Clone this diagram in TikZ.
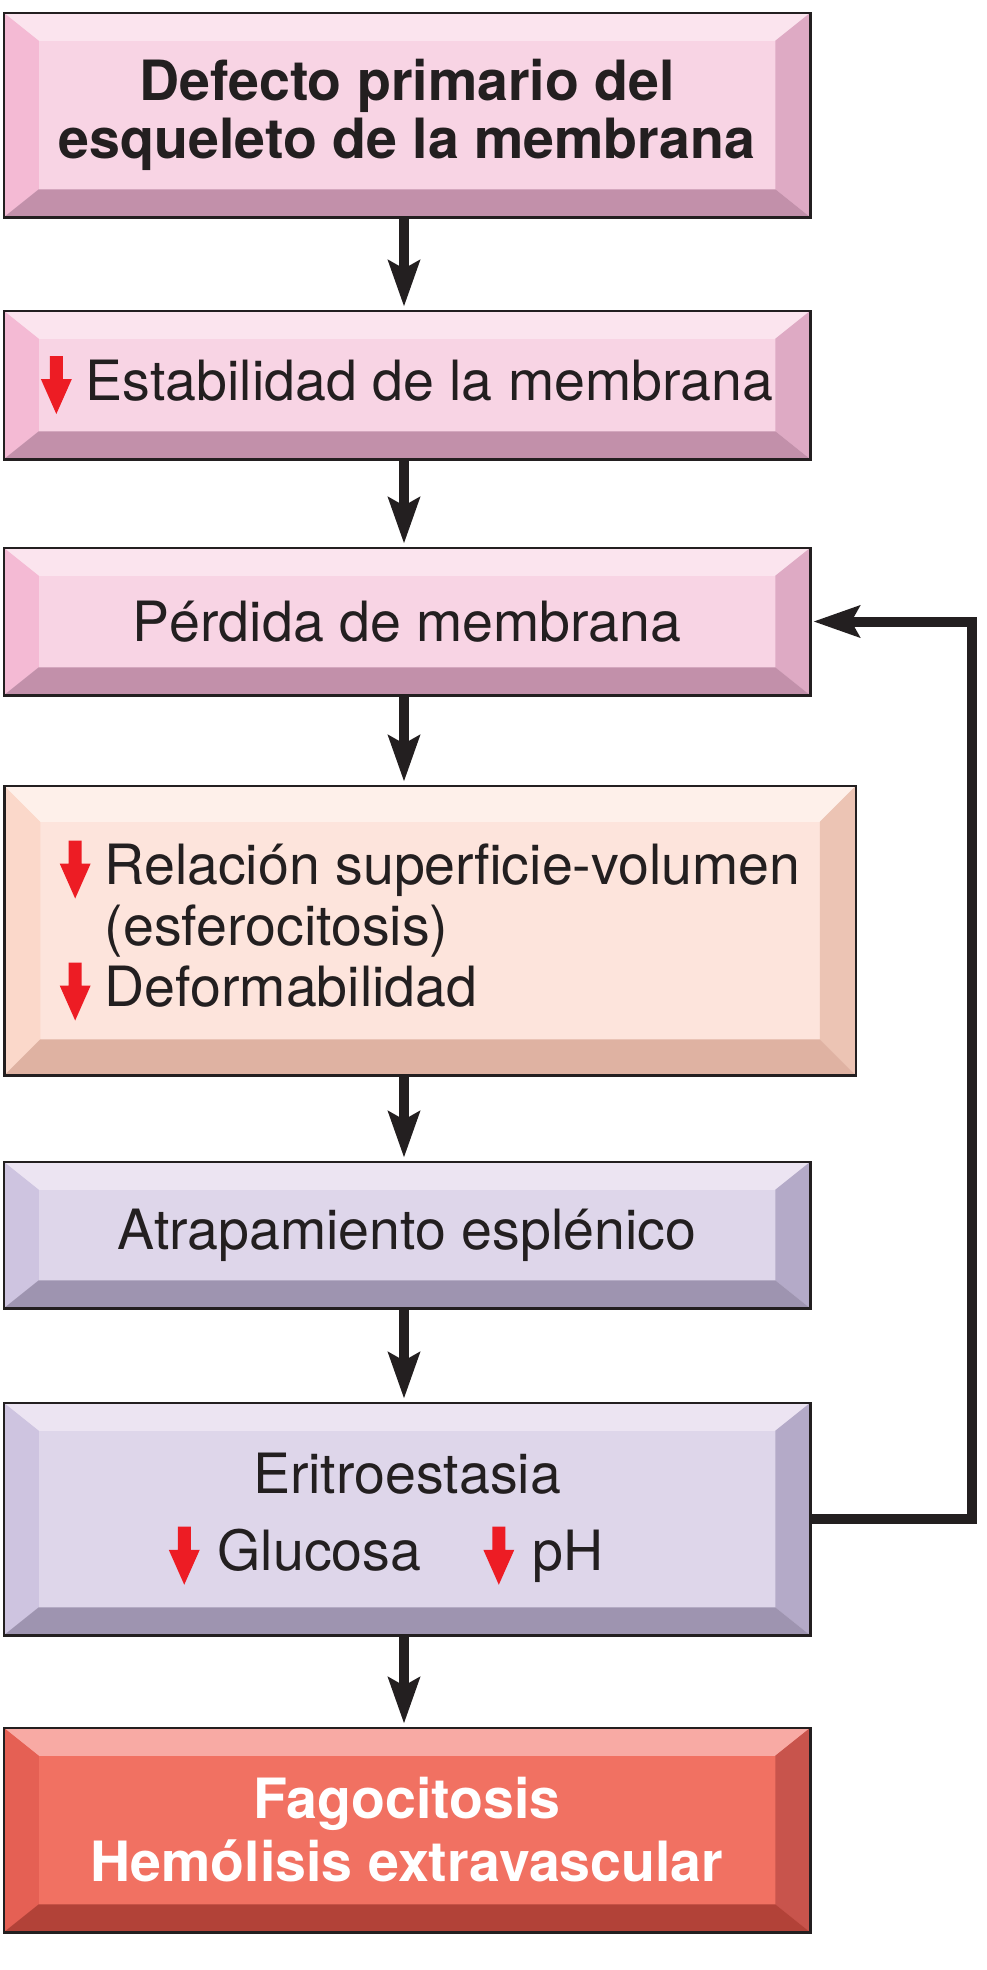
\documentclass[tikz,border=0pt]{standalone}
\usepackage{fontspec}
\setmainfont{TeX Gyre Heros}
\usepackage{xcolor}
\usetikzlibrary{positioning,calc,arrows.meta}

% Colores de las cajas
\definecolor{texto}{HTML}{231F20}
\definecolor{rojo}{HTML}{ED1C24}
\definecolor{rosaCara}{HTML}{F8D4E4}
\definecolor{rosaArr}{HTML}{FBE4EE}
\definecolor{rosaIzq}{HTML}{F4BAD4}
\definecolor{rosaDer}{HTML}{DEAAC4}
\definecolor{rosaAba}{HTML}{C290AA}
\definecolor{melonCara}{HTML}{FDE4DC}
\definecolor{melonArr}{HTML}{FEF0EA}
\definecolor{melonIzq}{HTML}{FBD8CA}
\definecolor{melonDer}{HTML}{ECC4B4}
\definecolor{melonAba}{HTML}{DFB2A2}
\definecolor{lilaCara}{HTML}{DED6EA}
\definecolor{lilaArr}{HTML}{ECE4F2}
\definecolor{lilaIzq}{HTML}{CEC4E0}
\definecolor{lilaDer}{HTML}{B4AAC8}
\definecolor{lilaAba}{HTML}{9E94B0}
\definecolor{rojoCara}{HTML}{F17162}
\definecolor{rojoArr}{HTML}{F8AAA4}
\definecolor{rojoIzq}{HTML}{E56054}
\definecolor{rojoDer}{HTML}{C8544C}
\definecolor{rojoAba}{HTML}{B24238}

% flecha roja de descenso
\newcommand{\baja}{\tikz[x=1pt,y=1pt,baseline=0pt]\fill[rojo] (-6.5,44) -- (6.5,44) -- (6.5,21) -- (15.5,21) -- (0,-14) -- (-15.5,21) -- (-6.5,21) -- cycle;}

% biseles: nodo, familia, ancho, alto
\newcommand{\bisel}[4]{%
  \fill[#2Arr] (#1.north west) -- (#1.north east) -- ($(#1.north east)+(-#3,#4)$) -- ($(#1.north west)+(#3,#4)$) -- cycle;
  \fill[#2Izq] (#1.north west) -- ($(#1.north west)+(#3,#4)$) -- ($(#1.south west)+(#3,-#4)$) -- (#1.south west) -- cycle;
  \fill[#2Der] (#1.north east) -- (#1.south east) -- ($(#1.south east)+(-#3,-#4)$) -- ($(#1.north east)+(-#3,#4)$) -- cycle;
  \fill[#2Aba] (#1.south west) -- (#1.south east) -- ($(#1.south east)+(-#3,-#4)$) -- ($(#1.south west)+(#3,-#4)$) -- cycle;
  \draw[line width=2.5pt, texto] (#1.north west) rectangle (#1.south east);
}

\begin{document}
\begin{tikzpicture}[x=1pt, y=-1pt,
  caja/.style={rectangle, inner sep=0pt, align=center, text=texto,
    font=\fontsize{55.5}{58}\selectfont, line width=2.5pt},
  flecha/.style={line width=10pt, texto, -{Stealth[length=46pt, width=31pt, inset=8pt]}}]
  \useasboundingbox (0,0) rectangle (987,1970);

  % Cajas
  \node[caja, fill=rosaCara, minimum width=804pt, minimum height=202pt, font=\fontsize{55.5}{58}\selectfont\bfseries] (defecto) at (407,115) {Defecto primario del\\esqueleto de la membrana};
  \bisel{defecto}{rosa}{35}{28}
  \node[caja, fill=rosaCara, minimum width=804pt, minimum height=146pt] (estab) at (407,385) {\baja\hspace{14pt}Estabilidad de la membrana};
  \bisel{estab}{rosa}{35}{28}
  \node[caja, fill=rosaCara, minimum width=804pt, minimum height=145pt] (perdida) at (407,621.5) {Pérdida de membrana};
  \bisel{perdida}{rosa}{35}{28}
  \node[caja, fill=melonCara, minimum width=849pt, minimum height=287pt, align=left, font=\fontsize{55.5}{61}\selectfont] (relacion) at (430,930.5) {\baja\hspace{14pt}Relación superficie-volumen\\\phantom{\baja}\hspace{14pt}(esferocitosis)\\\baja\hspace{14pt}Deformabilidad};
  \bisel{relacion}{melon}{36}{36}
  \node[caja, fill=lilaCara, minimum width=804pt, minimum height=144pt] (atrapa) at (407,1235) {Atrapamiento esplénico};
  \bisel{atrapa}{lila}{35}{28}
  \node[caja, fill=lilaCara, minimum width=804pt, minimum height=230pt] (eritro) at (407,1519) {Eritroestasia\\[19pt]\baja\hspace{18pt}Glucosa\hspace{62pt}\baja\hspace{18pt}pH\hspace*{42pt}};
  \bisel{eritro}{lila}{35}{28}
  \node[caja, fill=rojoCara, minimum width=804pt, minimum height=202pt, text=white, font=\fontsize{55.5}{63}\selectfont\bfseries] (fago) at (407,1830) {Fagocitosis\\Hemólisis extravascular};
  \bisel{fago}{rojo}{35}{28}

  % Flechas
  \coordinate (eje) at (404,0);
  \foreach \a/\b in {defecto/estab, estab/perdida, perdida/relacion, relacion/atrapa, atrapa/eritro, eritro/fago}
    \draw[flecha, shorten >=4pt] (\a.south -| eje) -- (\b.north -| eje);

  % Retroalimentacion
  \coordinate (giro) at (972,621.5);
  \draw[flecha, shorten >=3pt] (eritro.east) -| (giro) -- (perdida.east);
\end{tikzpicture}
\end{document}
